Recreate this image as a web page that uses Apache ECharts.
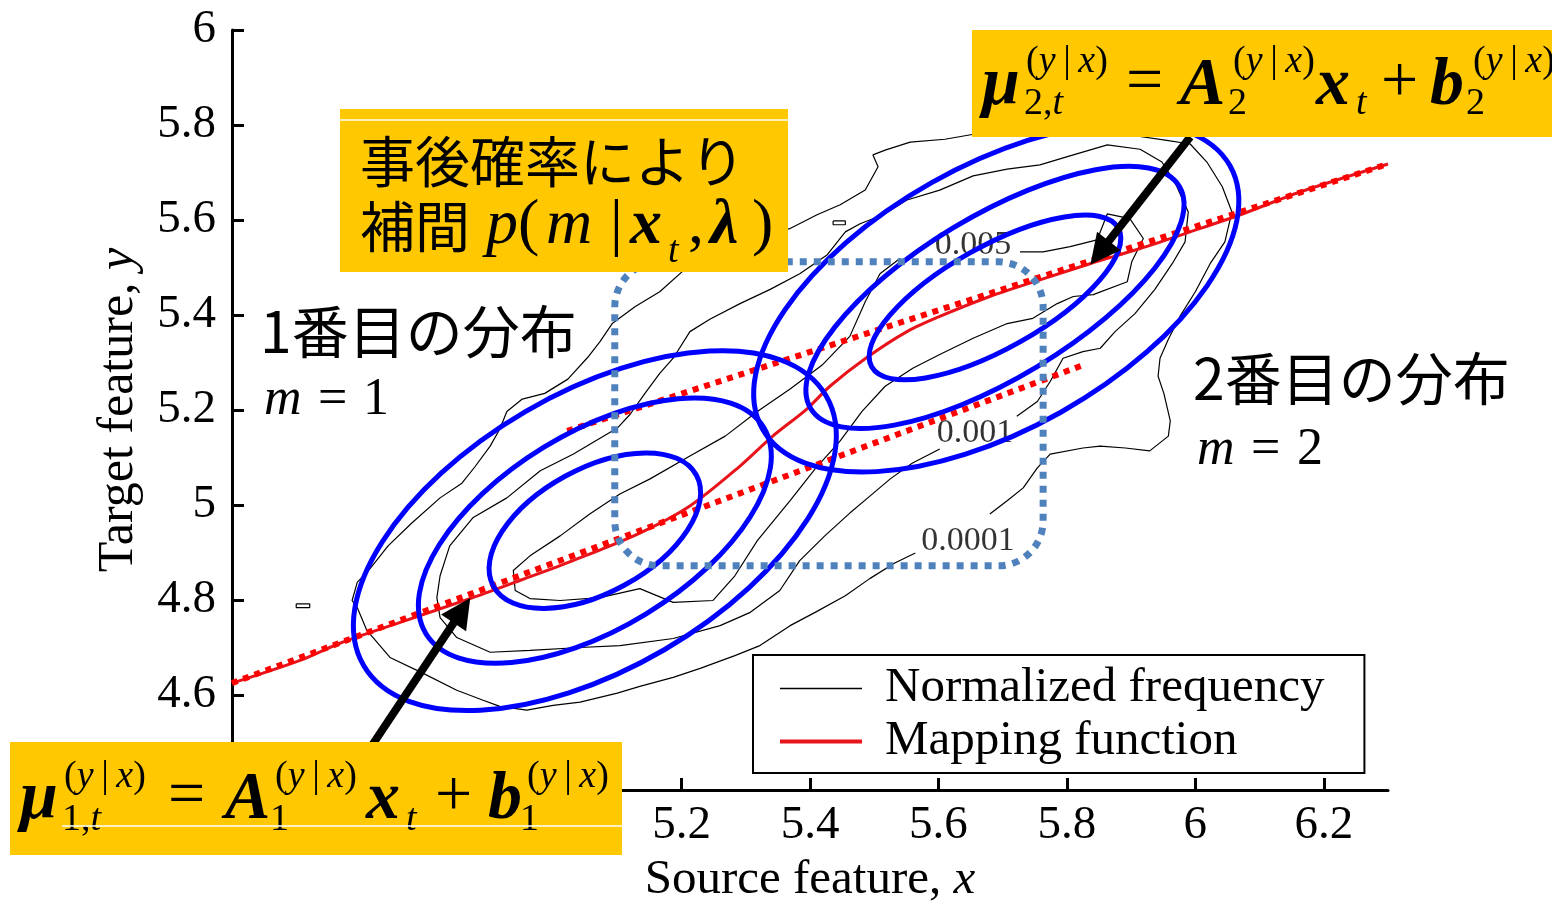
<!DOCTYPE html>
<html>
<head>
<meta charset="utf-8">
<script src="https://cdn.jsdelivr.net/npm/echarts@6/dist/echarts.min.js"></script>
<style>
  html, body { margin: 0; padding: 0; background: #fff; }
  #chart { width: 1552px; height: 904px; }
</style>
</head>
<body>
<div id="chart"></div>
<script>
const SERIF = '"Liberation Serif", "Times New Roman", serif';
const JP = '"Noto Sans CJK JP", sans-serif';
const YELLOW = '#ffc800';

// axis ticks
const xTicks = [4.6, 4.8, 5, 5.2, 5.4, 5.6, 5.8, 6, 6.2];
const yTicks = [4.4, 4.6, 4.8, 5, 5.2, 5.4, 5.6, 5.8, 6];

// red solid line: mapping function
const mappingFunction = [
  [4.500, 4.625], [4.606, 4.673], [4.668, 4.709], [4.762, 4.753], [4.875, 4.805],
  [4.948, 4.841], [5.031, 4.883], [5.135, 4.941], [5.213, 4.998], [5.291, 5.082],
  [5.342, 5.145], [5.395, 5.202], [5.431, 5.250], [5.489, 5.311], [5.551, 5.365],
  [5.602, 5.397], [5.680, 5.439], [5.758, 5.474], [5.836, 5.508], [5.914, 5.540],
  [5.992, 5.575], [6.070, 5.611], [6.163, 5.659], [6.300, 5.718]
];

// red dotted lines: per-component linear mapping
const regressionLine1 = [[4.500, 4.625], [5.828, 5.296]];
const regressionLine2 = [[5.022, 5.156], [6.300, 5.718]];

// thin black contours of normalized frequency
const contour0001 = [
  [5.564, 4.899], [5.532, 4.878], [5.493, 4.845], [5.455, 4.809], [5.408, 4.774],
  [5.369, 4.746], [5.322, 4.704], [5.283, 4.683], [5.229, 4.656], [5.187, 4.637],
  [5.135, 4.618], [5.100, 4.604], [5.042, 4.585], [5.000, 4.578], [4.959, 4.568],
  [4.917, 4.576], [4.891, 4.589], [4.850, 4.610], [4.797, 4.646], [4.746, 4.679],
  [4.710, 4.736], [4.695, 4.784], [4.687, 4.799], [4.695, 4.837], [4.715, 4.866],
  [4.743, 4.914], [4.780, 4.962], [4.824, 5.015], [4.858, 5.046], [4.878, 5.080],
  [4.902, 5.124], [4.917, 5.160], [4.928, 5.197], [4.952, 5.223], [4.987, 5.235],
  [5.023, 5.265], [5.054, 5.311], [5.073, 5.344], [5.092, 5.382], [5.128, 5.418],
  [5.166, 5.449], [5.205, 5.496], [5.237, 5.533], [5.275, 5.558], [5.322, 5.571],
  [5.369, 5.582], [5.411, 5.611], [5.447, 5.632], [5.486, 5.663], [5.506, 5.712],
  [5.498, 5.737], [5.517, 5.747], [5.556, 5.764], [5.610, 5.770], [5.657, 5.781],
  [5.711, 5.789], [5.774, 5.781], [5.836, 5.789], [5.898, 5.779], [5.953, 5.768],
  [5.992, 5.760], [6.018, 5.722], [6.042, 5.670], [6.057, 5.617], [6.046, 5.554],
  [6.023, 5.508], [6.000, 5.449], [5.976, 5.397], [5.958, 5.349], [5.945, 5.309],
  [5.942, 5.271], [5.951, 5.235], [5.961, 5.177], [5.958, 5.145], [5.929, 5.114],
  [5.891, 5.120], [5.852, 5.124], [5.825, 5.120], [5.774, 5.107], [5.754, 5.078],
  [5.732, 5.036], [5.707, 5.009], [5.680, 4.981]
];
const contour001 = [
  [5.602, 5.118], [5.559, 5.088], [5.525, 5.055], [5.490, 5.015], [5.462, 4.983],
  [5.423, 4.935], [5.384, 4.883], [5.353, 4.820], [5.307, 4.774], [5.260, 4.746],
  [5.187, 4.719], [5.104, 4.704], [5.042, 4.700], [4.964, 4.694], [4.902, 4.690],
  [4.850, 4.721], [4.824, 4.763], [4.819, 4.805], [4.824, 4.851], [4.839, 4.914],
  [4.875, 4.973], [4.928, 5.015], [4.980, 5.072], [5.031, 5.107], [5.100, 5.162],
  [5.120, 5.191], [5.143, 5.235], [5.166, 5.277], [5.187, 5.309], [5.213, 5.365],
  [5.244, 5.391], [5.291, 5.424], [5.338, 5.454], [5.384, 5.487], [5.427, 5.527],
  [5.455, 5.575], [5.478, 5.592], [5.514, 5.611], [5.551, 5.642], [5.602, 5.663],
  [5.654, 5.693], [5.707, 5.707], [5.758, 5.716], [5.810, 5.737], [5.863, 5.758],
  [5.914, 5.749], [5.948, 5.722], [5.968, 5.680], [5.989, 5.617], [5.984, 5.554],
  [5.964, 5.508], [5.937, 5.454], [5.906, 5.403], [5.875, 5.365], [5.852, 5.330],
  [5.825, 5.323], [5.794, 5.309], [5.774, 5.260], [5.754, 5.218], [5.722, 5.187]
];
const contour005 = [
  [5.727, 5.533], [5.763, 5.533], [5.805, 5.544], [5.847, 5.558], [5.863, 5.613],
  [5.898, 5.603], [5.919, 5.561], [5.901, 5.512], [5.894, 5.470], [5.841, 5.443],
  [5.810, 5.439], [5.785, 5.424], [5.747, 5.393], [5.707, 5.382], [5.654, 5.351],
  [5.602, 5.317], [5.560, 5.288], [5.517, 5.250], [5.481, 5.197], [5.447, 5.135],
  [5.408, 5.076], [5.369, 5.009], [5.318, 4.925], [5.283, 4.851], [5.249, 4.799],
  [5.187, 4.795], [5.135, 4.824], [5.073, 4.805], [5.011, 4.799], [4.964, 4.803],
  [4.941, 4.820], [4.938, 4.862], [4.964, 4.893], [5.011, 4.935], [5.057, 4.981],
  [5.104, 5.023], [5.151, 5.055], [5.213, 5.103], [5.268, 5.145], [5.318, 5.197],
  [5.369, 5.244], [5.420, 5.296], [5.462, 5.355], [5.486, 5.428], [5.509, 5.487],
  [5.540, 5.519]
];
const contourIslandA = [[4.600, 4.792], [4.621, 4.792], [4.621, 4.784], [4.600, 4.784], [4.600, 4.792]];
const contourIslandB = [[5.436, 5.598], [5.455, 5.598], [5.455, 5.590], [5.436, 5.590], [5.436, 5.598]];

const contourLabelText = ['0.005', '0.001', '0.0001'];
const contourLabelX = [5.654, 5.657, 5.646];
const contourLabelY = [5.548, 5.151, 4.925];

// blue ellipses: [centerX, centerY, majorTipX, majorTipY, minor/major]
const gaussEllipses = [
  [5.065, 4.946, 5.223, 5.063, 0.536],
  [5.065, 4.946, 5.328, 5.163, 0.494],
  [5.065, 4.946, 5.425, 5.230, 0.515],
  [5.688, 5.437, 5.880, 5.583, 0.361],
  [5.688, 5.437, 5.975, 5.671, 0.377],
  [5.690, 5.437, 6.054, 5.714, 0.491]
];

// dotted rounded region: [x1, y1, x2, y2]
const interpRegion = [[5.096, 5.512, 5.763, 4.872]];

// arrows: start -> head
const arrowCoords = [
  [[4.718, 4.494], [4.858, 4.778]],
  [[5.992, 5.775], [5.851, 5.531]]
];

const chart = echarts.init(document.getElementById('chart'));

function txt(text, x, y, font) {
  return { type: 'text', z: 102, style: { text, x, y, font, fill: '#000', verticalAlign: 'middle' } };
}
function rich(text, x, y, size) {
  return {
    type: 'text', z: 102,
    style: {
      text, x, y, verticalAlign: 'middle',
      rich: {
        r: { font: `${size}px ${SERIF}`, fill: '#000' },
        i: { font: `italic ${size}px ${SERIF}`, fill: '#000' }
      }
    }
  };
}
const yx = '{r|(}{i|y}{r|\u2009|\u2009}{i|x}{r|)}';
const BI = `italic bold 68px ${SERIF}`;
const R = `66px ${SERIF}`;

const graphics = [
  // box A
  { type: 'rect', z: 100, shape: { x: 340, y: 109, width: 448, height: 163 }, style: { fill: YELLOW } },
  { type: 'line', z: 101, shape: { x1: 340, y1: 120, x2: 788, y2: 120 }, style: { stroke: '#fff', lineWidth: 1.5 } },
  txt('事後確率により', 360, 161, `55px ${JP}`),
  txt('補間', 360, 226, `55px ${JP}`),
  txt('p', 486, 226, `italic 64px ${SERIF}`),
  txt('(', 518, 226, `64px ${SERIF}`),
  txt('m', 546, 226, `italic 64px ${SERIF}`),
  txt('|', 610, 226, `64px ${SERIF}`),
  txt('x', 630, 226, `italic bold 64px ${SERIF}`),
  txt('t', 668, 252, `italic 38px ${SERIF}`),
  txt(',', 688, 226, `64px ${SERIF}`),
  txt('λ', 710, 226, `italic bold 64px ${SERIF}`),
  txt(')', 752, 226, `64px ${SERIF}`),

  // box B
  { type: 'rect', z: 100, shape: { x: 972, y: 30, width: 580, height: 107 }, style: { fill: YELLOW } },
  txt('μ', 982, 86, BI),
  rich('{r|2,}{i|t}', 1024, 104, 38),
  rich(yx, 1026, 62, 38),
  txt('=', 1126, 84, R),
  txt('A', 1180, 86, BI),
  rich(yx, 1233, 62, 38),
  txt('2', 1228, 104, `38px ${SERIF}`),
  txt('x', 1316, 86, BI),
  txt('t', 1356, 104, `italic 38px ${SERIF}`),
  txt('+', 1381, 84, R),
  txt('b', 1430, 86, BI),
  rich(yx, 1473, 62, 38),
  txt('2', 1466, 104, `38px ${SERIF}`),

  // box C
  { type: 'rect', z: 100, shape: { x: 10, y: 742, width: 612, height: 113 }, style: { fill: YELLOW } },
  txt('μ', 20, 800, BI),
  rich('{r|1,}{i|t}', 62, 820, 38),
  rich(yx, 64, 777, 38),
  txt('=', 168, 798, R),
  txt('A', 225, 800, BI),
  rich(yx, 275, 777, 38),
  txt('1', 270, 820, `38px ${SERIF}`),
  txt('x', 366, 800, BI),
  txt('t', 406, 820, `italic 38px ${SERIF}`),
  txt('+', 435, 798, R),
  txt('b', 488, 800, BI),
  rich(yx, 527, 777, 38),
  txt('1', 520, 820, `38px ${SERIF}`),
  { type: 'line', z: 103, shape: { x1: 62, y1: 826, x2: 622, y2: 826 }, style: { stroke: '#fff', lineWidth: 1.5 } },

  // component captions
  txt('1番目の分布', 260, 331, `57px ${JP}`),
  txt('m', 264, 400, `italic 52px ${SERIF}`),
  txt('=', 318, 400, `52px ${SERIF}`),
  txt('1', 363, 400, `52px ${SERIF}`),
  txt('2番目の分布', 1193, 378, `57px ${JP}`),
  txt('m', 1197, 450, `italic 52px ${SERIF}`),
  txt('=', 1251, 450, `52px ${SERIF}`),
  txt('2', 1297, 450, `52px ${SERIF}`)
];

const contourStyle = { color: '#000', width: 1.2 };
const contourSeries = [contour0001, contour001, contour005, contourIslandA, contourIslandB].map((d) => ({
  name: 'Normalized frequency',
  type: 'line',
  data: d,
  symbol: 'none',
  lineStyle: contourStyle,
  itemStyle: { color: '#000' },
  z: 1,
  silent: true
}));

const option = {
  animation: false,
  backgroundColor: '#fff',
  grid: { left: 232, right: 164, top: 30, bottom: 114, containLabel: false, outerBoundsMode: 'none' },
  xAxis: {
    type: 'value', min: 4.5, max: 6.3,
    name: 'Source feature, {i|x}', nameLocation: 'middle', nameGap: 66,
    nameTextStyle: {
      fontFamily: SERIF, fontSize: 49, color: '#000',
      rich: { i: { fontFamily: SERIF, fontSize: 49, fontStyle: 'italic', color: '#000' } }
    },
    axisLine: { lineStyle: { color: '#000', width: 3 } },
    axisTick: { inside: true, length: 12, customValues: xTicks, lineStyle: { color: '#000', width: 3 } },
    axisLabel: { customValues: xTicks, margin: 12, fontFamily: SERIF, fontSize: 47, color: '#000' },
    splitLine: { show: false }
  },
  yAxis: {
    type: 'value', min: 4.4, max: 6,
    name: 'Target feature, {i|y}', nameLocation: 'middle', nameGap: 88, nameRotate: 90,
    nameTextStyle: {
      fontFamily: SERIF, fontSize: 50, color: '#000',
      rich: { i: { fontFamily: SERIF, fontSize: 50, fontStyle: 'italic', color: '#000' } }
    },
    axisLine: { show: true, lineStyle: { color: '#000', width: 3 } },
    axisTick: { show: true, inside: true, length: 12, customValues: yTicks, lineStyle: { color: '#000', width: 3 } },
    axisLabel: { customValues: yTicks, margin: 16, fontFamily: SERIF, fontSize: 47, color: '#000' },
    splitLine: { show: false }
  },
  legend: {
    data: [
      { name: 'Normalized frequency', lineStyle: { width: 1.5, color: '#000' } },
      { name: 'Mapping function', lineStyle: { width: 4, color: '#e8141b' } }
    ],
    orient: 'vertical',
    left: 753, top: 655,
    padding: [9, 40, 7, 25],
    itemGap: 4, itemWidth: 82, itemHeight: 14,
    borderColor: '#000', borderWidth: 2, borderRadius: 0,
    backgroundColor: '#fff',
    itemStyle: { opacity: 0 },
    textStyle: { fontFamily: SERIF, fontSize: 49, color: '#000', padding: [0, 0, 0, 18] },
    z: 20
  },
  graphic: { elements: graphics },
  series: [
    ...contourSeries,
    {
      name: 'contour levels',
      type: 'scatter',
      data: contourLabelText.map((s, i) => ({ name: s, value: [contourLabelX[i], contourLabelY[i]] })),
      symbolSize: 1,
      itemStyle: { color: 'rgba(0,0,0,0)' },
      label: { show: true, position: 'inside', formatter: '{b}', fontFamily: SERIF, fontSize: 34, color: '#000' },
      z: 2,
      silent: true
    },
    {
      name: 'Mapping function',
      type: 'line',
      data: mappingFunction,
      symbol: 'none',
      smooth: 0.3,
      lineStyle: { color: '#e8141b', width: 3 },
      itemStyle: { color: '#e8141b' },
      z: 3
    },
    {
      name: 'linear m=1',
      type: 'line',
      data: regressionLine1,
      symbol: 'none',
      lineStyle: { color: '#ff0000', width: 6, type: [6, 6], cap: 'butt' },
      z: 4
    },
    {
      name: 'linear m=2',
      type: 'line',
      data: regressionLine2,
      symbol: 'none',
      lineStyle: { color: '#ff0000', width: 6, type: [6, 6], cap: 'butt' },
      z: 4
    },
    {
      name: 'components',
      type: 'custom',
      data: gaussEllipses,
      encode: { x: [0, 2], y: [1, 3] },
      renderItem: (params, api) => {
        const c = api.coord([api.value(0), api.value(1)]);
        const t = api.coord([api.value(2), api.value(3)]);
        const dx = t[0] - c[0];
        const dy = t[1] - c[1];
        const rx = Math.hypot(dx, dy);
        return {
          type: 'ellipse',
          x: c[0], y: c[1],
          rotation: Math.atan2(-dy, dx),
          shape: { cx: 0, cy: 0, rx: rx, ry: rx * api.value(4) },
          style: { fill: 'none', stroke: '#0000ff', lineWidth: 5 }
        };
      },
      z: 5
    },
    {
      name: 'region',
      type: 'custom',
      data: interpRegion,
      encode: { x: [0, 2], y: [1, 3] },
      renderItem: (params, api) => {
        const p1 = api.coord([api.value(0), api.value(1)]);
        const p2 = api.coord([api.value(2), api.value(3)]);
        return {
          type: 'rect',
          shape: { x: p1[0], y: p1[1], width: p2[0] - p1[0], height: p2[1] - p1[1], r: 45 },
          style: { fill: 'none', stroke: '#4f81bd', lineWidth: 7, lineDash: [7, 7] }
        };
      },
      z: 6
    },
    {
      name: 'arrows',
      type: 'lines',
      coordinateSystem: 'cartesian2d',
      data: arrowCoords.map((c) => ({ coords: c })),
      symbol: ['none', 'triangle'],
      symbolSize: 30,
      lineStyle: { color: '#000', width: 8, opacity: 1, curveness: 0 },
      z: 7
    }
  ]
};

chart.setOption(option);
</script>
</body>
</html>
